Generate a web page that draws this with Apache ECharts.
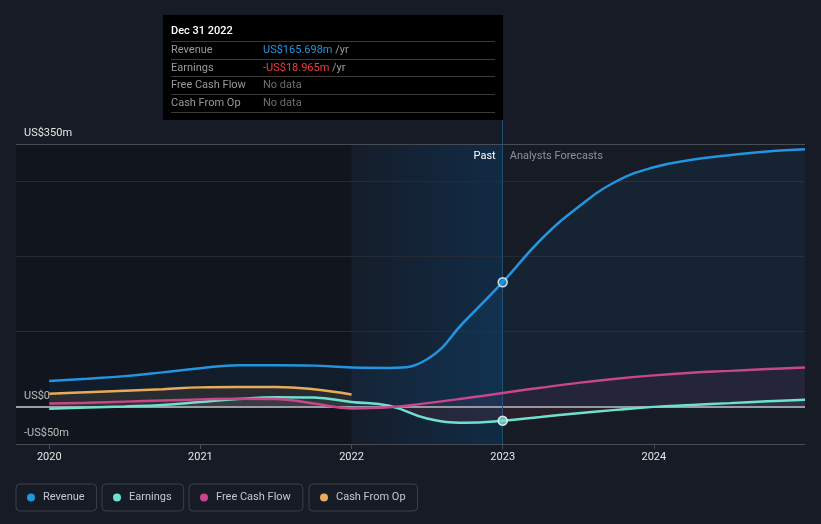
<!DOCTYPE html>
<html><head><meta charset="utf-8">
<script src="https://cdn.jsdelivr.net/npm/echarts@6/dist/echarts.min.js"></script>
<style>html,body{margin:0;padding:0;background:#161b26;}#c{width:821px;height:524px;}</style>
</head><body><div id="c"></div>
<script>
// ---- data (decimal years, US$ millions) ----
const quarters = [2020,2020.25,2020.5,2020.75,2021,2021.25,2021.5,2021.75,2022,2022.25,2022.5,2022.75,2023,2023.25,2023.5,2023.75,2024,2024.25,2024.5,2024.75,2025];
const revenue = [34,37,40.5,45.5,51,55,55,54.5,52,51.5,63,114,165.698,222,266,300,319,329,335,340,343];
const earnings = [-3,-1.5,0,2,6,10,12.5,12,6,1,-16,-21.5,-18.965,-14,-9,-4.5,-0.5,2,4.5,7,9];
const freeCashFlow = [4,5,6.5,8,9.5,10.5,10,4,-2.5,-1,4.5,11,18,25,31.5,37,41.5,45,47.5,50,52];
const cashFromOp = [17,19,21,23,25.5,26,26,23,16,null,null,null,null,null,null,null,null,null,null,null,null];
const seriesNames = ['Revenue','Earnings','Free Cash Flow','Cash From Op'];
const xTickYears = [2020,2021,2022,2023,2024];
const yTickValues = [-50,0,350];
const gridValues = [100,200,300];
const pastStart = 2022;
const forecastStart = 2023;
const tipDate = 'Dec 31 2022';
const tipValues = [revenue[quarters.indexOf(forecastStart)], earnings[quarters.indexOf(forecastStart)], null, null];

// ---- styling ----
const colors = ['#2394df','#6fe0cf','#c7478a','#e8ab5a'];
const xMin = 2019.78, xMax = 2025;
const yMin = -50, yMax = 382;
const font = 'Roboto, "DejaVu Sans", sans-serif';

const pair = arr => quarters.map((x,i)=>[x, arr[i]]);
const fmt = v => v < 0 ? '-US$' + Math.abs(v) + 'm' : (v === 0 ? 'US$0' : 'US$' + v + 'm');
const fmtTip = v => (v < 0 ? '-US$' : 'US$') + Math.abs(v).toFixed(3) + 'm';

const eMax = Math.max(0, ...earnings), eMin = Math.min(0, ...earnings);
const eOff = eMax / (eMax - eMin);

const chart = echarts.init(document.getElementById('c'));

function line(i, arr, area, extra) {
  return Object.assign({
    name: seriesNames[i], type: 'line', data: pair(arr), smooth: 0.45,
    symbol: 'none', connectNulls: false,
    lineStyle: {width: 2.5, color: colors[i]}, itemStyle: {color: colors[i]},
    areaStyle: area, emphasis: {disabled: true}, animation: false
  }, extra || {});
}

const tipRows = seriesNames.map((n, i) => {
  const v = tipValues[i];
  let val;
  if (v == null) val = '<span style="color:#6e6e6e">No data</span>';
  else val = '<span style="color:' + (v < 0 ? '#f03c3c' : colors[i]) + '">' + fmtTip(v) + '</span><span style="color:#9a9a9a">&nbsp;/yr</span>';
  return '<div style="display:flex;line-height:16.7px;border-bottom:1px solid #3a3a3a;"><span style="width:92px;color:#9a9a9a">' + n + '</span>' + val + '</div>';
}).join('');
const tipHtml = '<div style="color:#fff;font-weight:500;line-height:16px;padding-bottom:2px;border-bottom:1px solid #3a3a3a">' + tipDate + '</div>' + tipRows;

const legendLefts = [16, 102, 189, 309];

const option = {
  backgroundColor: '#161b26',
  animation: false,
  textStyle: {fontFamily: font},
  grid: {left: 16, right: 16, top: 120, bottom: 80},
  xAxis: {
    type: 'value', min: xMin, max: xMax,
    axisLine: {show: true, onZero: false, lineStyle: {color: '#474c55', width: 1}},
    axisTick: {show: true, customValues: xTickYears, length: 5, lineStyle: {color: '#474c55'}},
    axisLabel: {customValues: xTickYears, color: '#e6e6e6', fontSize: 11, margin: 8, fontFamily: font, formatter: v => String(v)},
    splitLine: {show: false}
  },
  yAxis: {
    type: 'value', min: yMin, max: yMax,
    splitLine: {show: false}, axisLine: {show: false}, axisTick: {show: false},
    axisLabel: {customValues: yTickValues, inside: true, margin: 8, verticalAlign: 'bottom', padding: [0,0,5,0], color: '#e6e6e6', fontSize: 11, fontFamily: font, formatter: fmt}
  },
  legend: seriesNames.map((n, i) => ({
    data: [n], left: legendLefts[i], top: 484, orient: 'horizontal',
    icon: 'circle', itemWidth: 8, itemHeight: 8,
    padding: [8, 12, 8, 11], borderColor: '#3b404a', borderWidth: 1, borderRadius: 4,
    textStyle: {color: '#c5c8cd', fontSize: 11, fontFamily: font, padding: [0,0,0,3]},
    selectedMode: false
  })),
  tooltip: {
    trigger: 'item', triggerOn: 'none', alwaysShowContent: true, position: [163, 15],
    backgroundColor: '#000', borderWidth: 0, padding: [8, 8, 7, 8], transitionDuration: 0,
    textStyle: {fontFamily: font, fontSize: 11, color: '#fff'},
    extraCssText: 'box-shadow:none;border-radius:0;width:324px;',
    formatter: () => tipHtml
  },
  series: [
    line(0, revenue, {color: 'rgba(35,148,223,0.10)'}, {
      markArea: {
        silent: true, z: 1,
        data: [
          [{xAxis: xMin, yAxis: yMin, itemStyle: {color: 'rgba(0,0,0,0.2)'}}, {xAxis: pastStart, yAxis: yTickValues[2]}],
          [{name: 'Past', xAxis: pastStart, yAxis: yMin,
            itemStyle: {color: new echarts.graphic.LinearGradient(0,0,1,0,[{offset:0,color:'rgba(5,80,140,0.04)'},{offset:1,color:'rgba(5,80,140,0.30)'}])},
            label: {show: true, position: 'insideTopRight', distance: 7, color: '#ffffff', fontSize: 11, fontFamily: font}},
           {xAxis: forecastStart, yAxis: yTickValues[2]}],
          [{name: 'Analysts Forecasts', xAxis: forecastStart, yAxis: yMin,
            itemStyle: {color: 'rgba(0,0,0,0)'},
            label: {show: true, position: 'insideTopLeft', distance: 7, color: '#8d9199', fontSize: 11, fontFamily: font}},
           {xAxis: xMax, yAxis: yTickValues[2]}]
        ]
      },
      markLine: {
        silent: true, z: 2, symbol: ['none','none'], label: {show: false}, animation: false,
        data: gridValues.map(v => ({yAxis: v, lineStyle: {color: '#252b35', width: 1, type: 'solid'}}))
          .concat([{yAxis: yTickValues[2], lineStyle: {color: '#474c55', width: 1, type: 'solid'}}])
      }
    }),
    line(1, earnings, {color: new echarts.graphic.LinearGradient(0,0,0,1,[
      {offset: 0, color: 'rgba(111,224,207,0.10)'}, {offset: eOff, color: 'rgba(111,224,207,0.10)'},
      {offset: eOff, color: 'rgba(220,60,60,0.14)'}, {offset: 1, color: 'rgba(220,60,60,0.14)'}])}, {
      markLine: {
        silent: true, z: 2, symbol: ['none','none'], label: {show: false}, animation: false,
        data: [
          {yAxis: 0, lineStyle: {color: '#9a9da3', width: 2, type: 'solid'}},
          {xAxis: forecastStart, lineStyle: {color: '#1f4e6e', width: 1, type: 'solid'}}
        ]
      }
    }),
    line(2, freeCashFlow, {color: 'rgba(199,71,138,0.12)'}),
    line(3, cashFromOp, {color: 'rgba(232,171,90,0.15)'}),
    {
      name: 'highlight', type: 'scatter', z: 10, symbolSize: 9, animation: false,
      itemStyle: {borderColor: '#ffffff', borderWidth: 1.5},
      data: [
        {value: [forecastStart, tipValues[0]], itemStyle: {color: colors[0]}},
        {value: [forecastStart, tipValues[1]], itemStyle: {color: colors[1]}}
      ]
    }
  ]
};
chart.setOption(option);
chart.dispatchAction({type: 'showTip', seriesIndex: 4, dataIndex: 0});
</script>
</body></html>
